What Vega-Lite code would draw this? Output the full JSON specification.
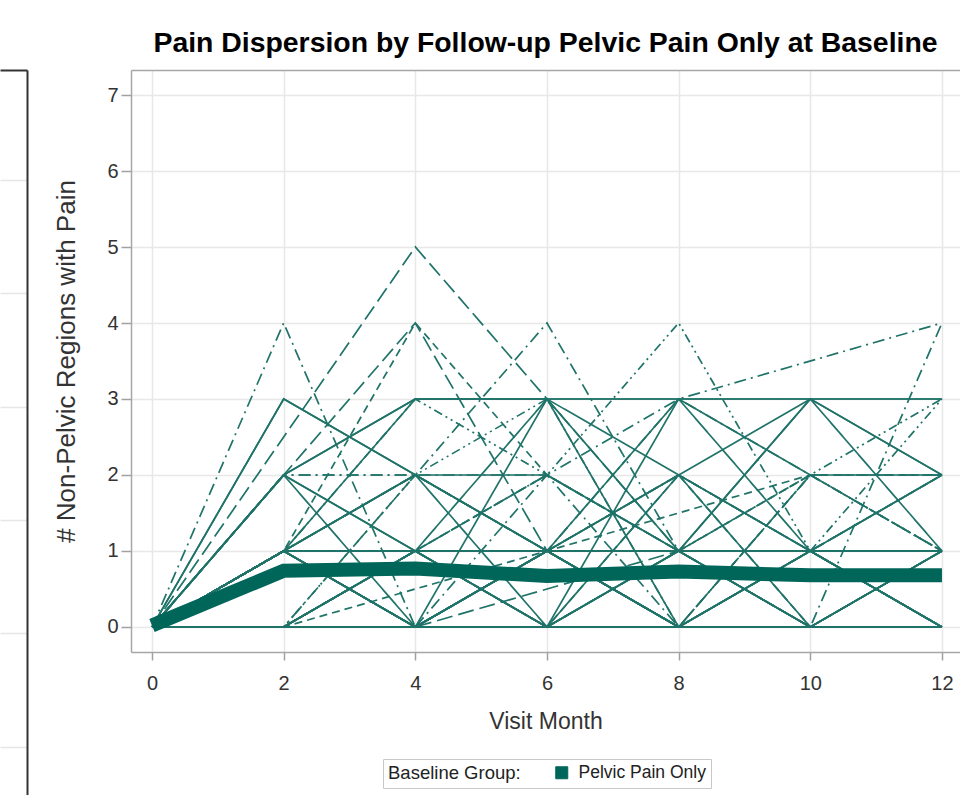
{
  "$schema": "https://vega.github.io/schema/vega-lite/v6.json",
  "background": "white",
  "padding": {"left": 0, "top": 28, "right": 0, "bottom": 0},
  "config": {
    "view": {"stroke": null},
    "font": "Liberation Sans"
  },
  "datasets": {
    "mean": [
      {"month": 0, "mean": 0.02, "group": "Pelvic Pain Only"},
      {"month": 2, "mean": 0.74, "group": "Pelvic Pain Only"},
      {"month": 4, "mean": 0.77, "group": "Pelvic Pain Only"},
      {"month": 6, "mean": 0.67, "group": "Pelvic Pain Only"},
      {"month": 8, "mean": 0.73, "group": "Pelvic Pain Only"},
      {"month": 10, "mean": 0.68, "group": "Pelvic Pain Only"},
      {"month": 12, "mean": 0.68, "group": "Pelvic Pain Only"}
    ],
    "subjects": [
      {"id":"01","month":0,"count":0},{"id":"01","month":2,"count":3},{"id":"01","month":4,"count":2},{"id":"01","month":6,"count":1},{"id":"01","month":8,"count":0},{"id":"01","month":10,"count":0},{"id":"01","month":12,"count":0},
      {"id":"02","month":0,"count":0},{"id":"02","month":4,"count":5},{"id":"02","month":6,"count":3},{"id":"02","month":8,"count":1},{"id":"02","month":12,"count":1},
      {"id":"03","month":0,"count":0},{"id":"03","month":2,"count":2},{"id":"03","month":4,"count":3},{"id":"03","month":6,"count":3},{"id":"03","month":8,"count":3},{"id":"03","month":10,"count":3},{"id":"03","month":12,"count":3},
      {"id":"04","month":0,"count":0},{"id":"04","month":2,"count":4},{"id":"04","month":4,"count":0},{"id":"04","month":6,"count":1},{"id":"04","month":8,"count":0},{"id":"04","month":10,"count":1},{"id":"04","month":12,"count":0},
      {"id":"05","month":0,"count":0},{"id":"05","month":2,"count":2},{"id":"05","month":4,"count":3},{"id":"05","month":6,"count":3},{"id":"05","month":8,"count":2},{"id":"05","month":10,"count":3},{"id":"05","month":12,"count":2},
      {"id":"06","month":0,"count":0},{"id":"06","month":2,"count":1},{"id":"06","month":4,"count":4},{"id":"06","month":6,"count":2},{"id":"06","month":8,"count":1},{"id":"06","month":10,"count":2},{"id":"06","month":12,"count":1},
      {"id":"07","month":0,"count":0},{"id":"07","month":2,"count":0},{"id":"07","month":4,"count":1},{"id":"07","month":6,"count":2},{"id":"07","month":8,"count":4},{"id":"07","month":10,"count":1},{"id":"07","month":12,"count":0},
      {"id":"08","month":0,"count":0},{"id":"08","month":2,"count":1},{"id":"08","month":4,"count":1},{"id":"08","month":6,"count":1},{"id":"08","month":8,"count":1},{"id":"08","month":10,"count":1},{"id":"08","month":12,"count":1},
      {"id":"09","month":0,"count":0},{"id":"09","month":2,"count":0},{"id":"09","month":4,"count":0},{"id":"09","month":6,"count":0},{"id":"09","month":8,"count":0},{"id":"09","month":10,"count":0},{"id":"09","month":12,"count":0},
      {"id":"10","month":0,"count":0},{"id":"10","month":2,"count":2},{"id":"10","month":4,"count":4},{"id":"10","month":6,"count":1},{"id":"10","month":8,"count":0},{"id":"10","month":10,"count":1},{"id":"10","month":12,"count":2},
      {"id":"11","month":0,"count":0},{"id":"11","month":2,"count":1},{"id":"11","month":4,"count":0},{"id":"11","month":6,"count":1},{"id":"11","month":8,"count":0},{"id":"11","month":10,"count":0},{"id":"11","month":12,"count":1},
      {"id":"12","month":0,"count":0},{"id":"12","month":2,"count":0},{"id":"12","month":4,"count":2},{"id":"12","month":6,"count":1},{"id":"12","month":8,"count":3},{"id":"12","month":12,"count":4},
      {"id":"13","month":0,"count":0},{"id":"13","month":2,"count":0},{"id":"13","month":4,"count":1},{"id":"13","month":6,"count":0},{"id":"13","month":8,"count":3},{"id":"13","month":10,"count":2},{"id":"13","month":12,"count":2},
      {"id":"14","month":0,"count":0},{"id":"14","month":2,"count":1},{"id":"14","month":4,"count":1},{"id":"14","month":6,"count":2},{"id":"14","month":8,"count":1},{"id":"14","month":10,"count":1},{"id":"14","month":12,"count":2},
      {"id":"15","month":0,"count":0},{"id":"15","month":2,"count":1},{"id":"15","month":4,"count":3},{"id":"15","month":6,"count":2},{"id":"15","month":8,"count":1},{"id":"15","month":10,"count":2},{"id":"15","month":12,"count":3},
      {"id":"16","month":0,"count":0},{"id":"16","month":2,"count":1},{"id":"16","month":4,"count":2},{"id":"16","month":6,"count":0},{"id":"16","month":8,"count":2},{"id":"16","month":10,"count":1},{"id":"16","month":12,"count":1},
      {"id":"17","month":0,"count":0},{"id":"17","month":2,"count":2},{"id":"17","month":4,"count":1},{"id":"17","month":6,"count":0},{"id":"17","month":8,"count":1},{"id":"17","month":10,"count":3},{"id":"17","month":12,"count":2},
      {"id":"18","month":0,"count":0},{"id":"18","month":2,"count":0},{"id":"18","month":4,"count":1},{"id":"18","month":6,"count":0},{"id":"18","month":8,"count":0},{"id":"18","month":10,"count":2},{"id":"18","month":12,"count":2},
      {"id":"19","month":0,"count":0},{"id":"19","month":2,"count":1},{"id":"19","month":4,"count":3},{"id":"19","month":6,"count":3},{"id":"19","month":8,"count":3},{"id":"19","month":10,"count":1},{"id":"19","month":12,"count":0},
      {"id":"20","month":0,"count":0},{"id":"20","month":2,"count":1},{"id":"20","month":4,"count":1},{"id":"20","month":6,"count":0},{"id":"20","month":8,"count":1},{"id":"20","month":10,"count":0},{"id":"20","month":12,"count":4},
      {"id":"21","month":0,"count":0},{"id":"21","month":2,"count":0},{"id":"21","month":4,"count":0},{"id":"21","month":6,"count":1},{"id":"21","month":8,"count":2},{"id":"21","month":10,"count":1},{"id":"21","month":12,"count":0},
      {"id":"22","month":0,"count":0},{"id":"22","month":2,"count":0},{"id":"22","month":4,"count":0},{"id":"22","month":6,"count":1},{"id":"22","month":8,"count":1},{"id":"22","month":10,"count":0},{"id":"22","month":12,"count":1},
      {"id":"23","month":0,"count":0},{"id":"23","month":2,"count":1},{"id":"23","month":4,"count":1},{"id":"23","month":6,"count":1},{"id":"23","month":8,"count":0},{"id":"23","month":10,"count":1},{"id":"23","month":12,"count":0},
      {"id":"24","month":0,"count":0},{"id":"24","month":2,"count":1},{"id":"24","month":4,"count":1},{"id":"24","month":6,"count":0},{"id":"24","month":8,"count":0},{"id":"24","month":10,"count":0},{"id":"24","month":12,"count":0},
      {"id":"25","month":0,"count":0},{"id":"25","month":2,"count":0},{"id":"25","month":4,"count":0},{"id":"25","month":6,"count":0},{"id":"25","month":8,"count":1},{"id":"25","month":10,"count":1},{"id":"25","month":12,"count":1},
      {"id":"26","month":0,"count":0},{"id":"26","month":4,"count":0},{"id":"26","month":8,"count":1},{"id":"26","month":12,"count":1},
      {"id":"27","month":0,"count":0},{"id":"27","month":2,"count":1},{"id":"27","month":4,"count":2},{"id":"27","month":6,"count":1},{"id":"27","month":8,"count":0},{"id":"27","month":10,"count":0},{"id":"27","month":12,"count":1},
      {"id":"28","month":0,"count":0},{"id":"28","month":2,"count":1},{"id":"28","month":4,"count":2},{"id":"28","month":6,"count":4},{"id":"28","month":8,"count":1},{"id":"28","month":10,"count":1},{"id":"28","month":12,"count":0},
      {"id":"29","month":0,"count":0},{"id":"29","month":2,"count":0},{"id":"29","month":4,"count":1},{"id":"29","month":6,"count":1},{"id":"29","month":8,"count":2},{"id":"29","month":10,"count":0},{"id":"29","month":12,"count":0},
      {"id":"30","month":0,"count":0},{"id":"30","month":2,"count":0},{"id":"30","month":6,"count":1},{"id":"30","month":10,"count":2},
      {"id":"31","month":0,"count":0},{"id":"31","month":2,"count":0},{"id":"31","month":4,"count":2},{"id":"31","month":6,"count":3},{"id":"31","month":8,"count":0},{"id":"31","month":10,"count":1},{"id":"31","month":12,"count":3},
      {"id":"32","month":0,"count":0},{"id":"32","month":2,"count":1},{"id":"32","month":4,"count":0},{"id":"32","month":6,"count":0},{"id":"32","month":8,"count":1},{"id":"32","month":10,"count":3},{"id":"32","month":12,"count":1},
      {"id":"33","month":0,"count":0},{"id":"33","month":2,"count":0},{"id":"33","month":4,"count":0},{"id":"33","month":6,"count":3},{"id":"33","month":8,"count":1},{"id":"33","month":10,"count":0},{"id":"33","month":12,"count":0},
      {"id":"34","month":0,"count":0},{"id":"34","month":2,"count":1},{"id":"34","month":4,"count":2},{"id":"34","month":6,"count":1},{"id":"34","month":8,"count":1},{"id":"34","month":10,"count":0},{"id":"34","month":12,"count":0},
      {"id":"35","month":0,"count":0},{"id":"35","month":2,"count":2},{"id":"35","month":4,"count":0},{"id":"35","month":6,"count":0},{"id":"35","month":8,"count":0},{"id":"35","month":10,"count":1},{"id":"35","month":12,"count":0},
      {"id":"36","month":0,"count":0},{"id":"36","month":2,"count":2},{"id":"36","month":4,"count":2},{"id":"36","month":6,"count":2},{"id":"36","month":8,"count":3},{"id":"36","month":10,"count":2},{"id":"36","month":12,"count":1},
      {"id":"37","month":0,"count":0},{"id":"37","month":2,"count":3},{"id":"37","month":4,"count":2},{"id":"37","month":6,"count":2},{"id":"37","month":8,"count":1},{"id":"37","month":10,"count":1},{"id":"37","month":12,"count":0},
      {"id":"38","month":0,"count":0},{"id":"38","month":2,"count":1},{"id":"38","month":4,"count":2},{"id":"38","month":6,"count":1},{"id":"38","month":8,"count":0},{"id":"38","month":10,"count":2},{"id":"38","month":12,"count":2},
      {"id":"39","month":0,"count":0},{"id":"39","month":2,"count":0},{"id":"39","month":4,"count":1},{"id":"39","month":6,"count":1},{"id":"39","month":8,"count":0},{"id":"39","month":10,"count":2},{"id":"39","month":12,"count":1},
      {"id":"40","month":0,"count":0},{"id":"40","month":2,"count":1},{"id":"40","month":4,"count":0},{"id":"40","month":6,"count":1},{"id":"40","month":8,"count":1},{"id":"40","month":10,"count":0},{"id":"40","month":12,"count":0},
      {"id":"41","month":0,"count":0},{"id":"41","month":2,"count":0},{"id":"41","month":4,"count":1},{"id":"41","month":6,"count":1},{"id":"41","month":8,"count":1},{"id":"41","month":10,"count":0},{"id":"41","month":12,"count":1},
      {"id":"42","month":0,"count":0},{"id":"42","month":2,"count":0},{"id":"42","month":4,"count":1},{"id":"42","month":6,"count":2},{"id":"42","month":8,"count":1},{"id":"42","month":10,"count":0},{"id":"42","month":12,"count":1},
      {"id":"43","month":0,"count":0},{"id":"43","month":2,"count":0},{"id":"43","month":4,"count":0},{"id":"43","month":6,"count":0},{"id":"43","month":8,"count":0},{"id":"43","month":10,"count":1},{"id":"43","month":12,"count":0},
      {"id":"44","month":0,"count":0},{"id":"44","month":2,"count":0},{"id":"44","month":4,"count":0},{"id":"44","month":6,"count":2},{"id":"44","month":8,"count":0},{"id":"44","month":10,"count":1},{"id":"44","month":12,"count":1},
      {"id":"45","month":0,"count":0},{"id":"45","month":2,"count":2},{"id":"45","month":4,"count":1},{"id":"45","month":6,"count":1},{"id":"45","month":8,"count":0},{"id":"45","month":10,"count":0},{"id":"45","month":12,"count":0},
      {"id":"46","month":0,"count":0},{"id":"46","month":2,"count":1},{"id":"46","month":4,"count":1},{"id":"46","month":6,"count":0},{"id":"46","month":8,"count":1},{"id":"46","month":10,"count":1},{"id":"46","month":12,"count":1},
      {"id":"47","month":0,"count":0},{"id":"47","month":2,"count":0},{"id":"47","month":4,"count":0},{"id":"47","month":6,"count":1},{"id":"47","month":8,"count":1},{"id":"47","month":10,"count":2},{"id":"47","month":12,"count":1},
      {"id":"48","month":0,"count":0},{"id":"48","month":2,"count":1},{"id":"48","month":4,"count":0},{"id":"48","month":6,"count":0},{"id":"48","month":8,"count":0},{"id":"48","month":10,"count":0},{"id":"48","month":12,"count":0},
      {"id":"49","month":0,"count":0},{"id":"49","month":2,"count":0},{"id":"49","month":4,"count":1},{"id":"49","month":6,"count":3},{"id":"49","month":8,"count":0},{"id":"49","month":10,"count":0},{"id":"49","month":12,"count":0},
      {"id":"50","month":0,"count":0},{"id":"50","month":2,"count":1},{"id":"50","month":4,"count":0},{"id":"50","month":6,"count":1},{"id":"50","month":8,"count":1},{"id":"50","month":10,"count":0},{"id":"50","month":12,"count":1},
      {"id":"51","month":0,"count":0},{"id":"51","month":2,"count":1},{"id":"51","month":4,"count":1},{"id":"51","month":6,"count":1},{"id":"51","month":8,"count":3},{"id":"51","month":10,"count":3},{"id":"51","month":12,"count":3},
      {"id":"52","month":0,"count":0},{"id":"52","month":2,"count":2},{"id":"52","month":4,"count":2},{"id":"52","month":6,"count":1},{"id":"52","month":8,"count":2},{"id":"52","month":10,"count":1},{"id":"52","month":12,"count":2},
      {"id":"53","month":0,"count":0},{"id":"53","month":2,"count":1},{"id":"53","month":4,"count":0},{"id":"53","month":6,"count":1},{"id":"53","month":8,"count":1},{"id":"53","month":10,"count":1},{"id":"53","month":12,"count":2},
      {"id":"54","month":0,"count":0},{"id":"54","month":2,"count":0},{"id":"54","month":4,"count":0},{"id":"54","month":6,"count":0},{"id":"54","month":8,"count":2},{"id":"54","month":10,"count":0},{"id":"54","month":12,"count":1},
      {"id":"55","month":0,"count":0},{"id":"55","month":2,"count":1},{"id":"55","month":4,"count":0},{"id":"55","month":6,"count":1},{"id":"55","month":8,"count":2},{"id":"55","month":10,"count":1},{"id":"55","month":12,"count":1},
      {"id":"56","month":0,"count":0},{"id":"56","month":2,"count":0},{"id":"56","month":4,"count":0},{"id":"56","month":6,"count":1},{"id":"56","month":8,"count":0},{"id":"56","month":10,"count":0},{"id":"56","month":12,"count":0}
    ]
  },
  "spacing": 26,
  "hconcat": [
    {
      "width": 27,
      "height": 725,
      "data": {"name": "mean"},
      "mark": {"type": "point", "opacity": 0, "size": 0},
      "encoding": {
        "x": {"field": "month", "type": "quantitative", "scale": {"domain": [0, 12], "nice": false},
              "axis": {"orient": "top", "labels": false, "ticks": false, "grid": false, "title": null, "minExtent": 0, "domainColor": "#333333", "domainWidth": 2}},
        "y": {"field": "mean", "type": "quantitative", "scale": {"domain": [-0.428, 5.971], "nice": false, "zero": false},
              "axis": {"orient": "right", "values": [0, 1, 2, 3, 4, 5], "labels": false, "ticks": false, "title": null, "minExtent": 0, "grid": true, "gridColor": "#e6e6e6", "gridWidth": 1.5, "domainColor": "#333333", "domainWidth": 2}}
      }
    },
    {
      "width": 829,
      "height": 582,
      "title": {"text": "Pain Dispersion by Follow-up Pelvic Pain Only at Baseline", "fontSize": 28.4, "fontWeight": "bold", "anchor": "middle", "baseline": "alphabetic", "offset": -10, "color": "#000000"},
      "layer": [
        {
          "data": {"name": "subjects"},
          "mark": {"type": "line", "strokeWidth": 1.7, "color": "#1f7368", "clip": true},
          "encoding": {
            "x": {"field": "month", "type": "quantitative",
                  "scale": {"domain": [-0.319, 12.274], "nice": false, "zero": false},
                  "axis": {"orient": "bottom", "values": [0, 2, 4, 6, 8, 10, 12], "format": "d", "title": "Visit Month",
                           "labelFontSize": 20, "labelColor": "#333333", "labelPadding": 13,
                           "tickColor": "#a0a0a0", "tickSize": 8, "tickWidth": 1.5,
                           "titleFontSize": 23, "titleFontWeight": "normal", "titleColor": "#333333", "titlePadding": 17,
                           "domainColor": "#a6a6a6", "domainWidth": 1.5,
                           "grid": true, "gridColor": "#e8e8e8", "gridWidth": 1.5}},
            "y": {"field": "count", "type": "quantitative",
                  "scale": {"domain": [-0.329, 7.329], "nice": false, "zero": false},
                  "axis": {"orient": "left", "values": [0, 1, 2, 3, 4, 5, 6, 7], "format": "d", "title": "# Non-Pelvic Regions with Pain",
                           "labelFontSize": 20, "labelColor": "#333333", "labelPadding": 3,
                           "tickColor": "#a0a0a0", "tickSize": 10, "tickWidth": 1.5,
                           "titleFontSize": 26, "titleFontWeight": "normal", "titleColor": "#333333", "titlePadding": 27,
                           "domainColor": "#a6a6a6", "domainWidth": 1.5,
                           "grid": true, "gridColor": "#e8e8e8", "gridWidth": 1.5}},
            "strokeDash": {"field": "id", "type": "nominal", "legend": null,
                           "scale": {"range": [[1, 0], [16, 6], [1, 0], [12, 5, 2, 5], [1, 0], [8, 5], [9, 4, 2, 4, 2, 4], [1, 0]]}}
          }
        },
        {
          "data": {"name": "mean"},
          "mark": {"type": "line", "strokeWidth": 14, "clip": true},
          "encoding": {
            "x": {"field": "month", "type": "quantitative",
                  "scale": {"domain": [-0.319, 12.274], "nice": false, "zero": false},
                  "axis": {"orient": "top", "labels": false, "ticks": false, "grid": false, "title": null, "minExtent": 0,
                           "domainColor": "#a6a6a6", "domainWidth": 1.5}},
            "y": {"field": "mean", "type": "quantitative",
                  "scale": {"domain": [-0.329, 7.329], "nice": false, "zero": false}},
            "color": {"field": "group", "type": "nominal", "scale": {"range": ["#00665a"]},
                      "legend": {"title": "Baseline Group:", "orient": "none", "legendX": 383, "legendY": 689,
                                 "direction": "horizontal", "titleOrient": "left",
                                 "titleFontSize": 18.5, "titleFontWeight": "normal", "titleColor": "#222222", "titlePadding": 32,
                                 "labelFontSize": 17.5, "labelColor": "#222222", "labelOffset": 8,
                                 "symbolType": "square", "symbolSize": 144, "symbolFillColor": "#00665a", "symbolStrokeWidth": 1,
                                 "strokeColor": "#c8c8c8", "fillColor": "#ffffff", "padding": 5,
                                 "encode": {"symbols": {"update": {"stroke": {"value": "#000000"}, "fill": {"value": "#00665a"}}}}}}
          }
        }
      ],
      "resolve": {"axis": {"x": "independent"}}
    }
  ]
}
